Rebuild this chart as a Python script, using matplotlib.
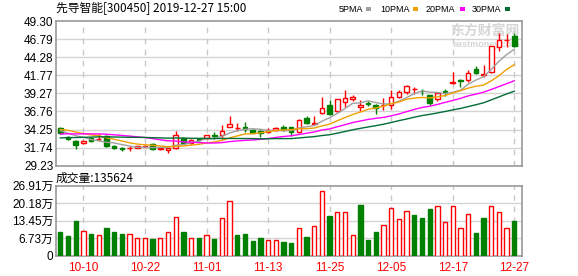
import numpy as np
import pandas as pd
import matplotlib
matplotlib.use("Agg")
import matplotlib.pyplot as plt
from matplotlib.patches import Rectangle

plt.rcParams['font.family'] = ['Noto Sans CJK SC', 'DejaVu Sans']

title = "先导智能[300450] 2019-12-27 15:00"
vol_title = "成交量:135624"

# daily candles, 2019-09-30 .. 2019-12-27
opens = [34.48, 33.27, 32.71, 32.34, 33.04, 32.90, 33.41, 31.97, 31.74, 31.69,
         31.74, 31.88, 32.25, 31.51, 31.41, 31.69, 33.13, 32.39, 32.92, 33.05,
         33.48, 33.50, 34.66, 34.41, 34.62, 34.25, 34.01, 33.97, 34.15, 34.66,
         34.57, 33.87, 35.78, 35.08, 36.52, 37.70, 36.85, 38.06, 38.45, 37.40,
         37.98, 37.70, 37.58, 37.65, 38.80, 39.48, 39.88, 39.65, 38.99, 38.45,
         39.58, 40.70, 41.15, 41.08, 42.61, 41.75, 42.24, 45.72, 46.60, 47.20]
highs = [34.57, 33.36, 32.81, 32.85, 33.27, 33.64, 33.55, 32.16, 31.88, 31.97,
         32.02, 32.11, 32.39, 31.78, 31.78, 34.11, 33.22, 32.90, 33.13, 33.50,
         33.96, 34.90, 36.06, 35.13, 35.27, 34.34, 34.20, 34.43, 34.62, 34.85,
         34.62, 35.73, 36.06, 36.06, 38.75, 38.29, 38.55, 39.70, 38.99, 38.35,
         38.15, 37.80, 38.66, 39.68, 39.70, 40.40, 40.10, 39.90, 39.10, 39.35,
         39.80, 42.24, 41.30, 42.50, 43.00, 43.17, 45.90, 47.60, 47.49, 47.60]
lows = [33.64, 32.85, 31.55, 32.20, 32.48, 32.71, 31.88, 31.55, 31.32, 31.27,
        31.69, 31.78, 31.41, 31.41, 31.04, 31.55, 32.34, 32.25, 32.67, 32.90,
        32.90, 32.95, 34.57, 34.11, 33.87, 33.74, 33.27, 33.83, 34.06, 34.11,
        33.41, 33.83, 34.99, 35.04, 36.45, 36.30, 36.70, 37.40, 38.25, 36.80,
        37.52, 36.42, 37.02, 37.15, 38.60, 39.20, 39.15, 39.00, 37.70, 38.25,
        38.90, 40.60, 40.15, 40.90, 41.90, 41.55, 42.10, 45.20, 45.72, 45.70]
closes = [33.74, 32.95, 32.16, 32.71, 32.67, 32.92, 31.92, 31.74, 31.55, 31.70,
          31.92, 32.02, 31.51, 31.66, 31.70, 33.50, 32.39, 32.81, 32.78, 33.45,
          33.40, 34.11, 35.04, 34.46, 34.34, 33.83, 33.73, 34.25, 34.43, 34.25,
          33.87, 35.50, 35.13, 35.22, 37.27, 36.34, 38.45, 38.56, 38.73, 37.68,
          37.72, 37.22, 37.62, 38.80, 39.45, 40.29, 39.93, 39.58, 37.92, 39.25,
          39.52, 40.80, 40.95, 42.15, 42.10, 41.90, 45.82, 46.65, 46.72, 45.82]
# closes before 09-30, only needed to start the moving averages
prior_close = [31.5, 31.8, 32.0, 31.7, 31.9, 32.2, 32.0, 32.3, 32.1, 32.4,
               32.3, 32.6, 32.4, 32.8, 33.0, 32.9, 33.3, 33.2, 33.6, 33.9,
               34.0, 34.6, 34.9, 34.5, 33.96, 34.8, 33.9, 33.8, 34.3]

# volume in 万
volume = [9.1, 7.6, 13.3, 9.7, 8.3, 8.2, 10.6, 9.1, 8.3, 8.6,
          6.7, 7.0, 6.4, 7.0, 9.0, 15.1, 9.1, 6.7, 6.8, 8.2,
          6.4, 14.7, 20.9, 7.9, 8.3, 5.6, 6.8, 6.3, 6.3, 5.3,
          4.9, 10.9, 7.2, 11.3, 24.7, 15.2, 16.7, 16.7, 8.2, 19.5,
          6.0, 9.1, 12.0, 18.2, 14.0, 17.4, 15.6, 14.5, 17.9, 19.0,
          13.2, 19.3, 10.9, 16.0, 8.7, 14.5, 19.0, 16.7, 10.9, 13.56]
vol_up = [0, 0, 0, 1, 0, 1, 0, 0, 0, 1,
          1, 1, 0, 1, 1, 1, 0, 1, 0, 1,
          0, 1, 1, 0, 0, 0, 0, 1, 1, 0,
          0, 1, 0, 1, 1, 0, 1, 1, 1, 0,
          0, 0, 1, 1, 1, 1, 0, 0, 0, 1,
          1, 1, 1, 1, 0, 0, 1, 1, 1, 0]

date_idx = [3, 11, 19, 27, 35, 43, 51, 59]
date_labels = ["10-10", "10-22", "11-01", "11-13", "11-25", "12-05", "12-17", "12-27"]
price_labels = ["29.23", "31.74", "34.25", "36.76", "39.27", "41.77", "44.28", "46.79", "49.30"]
vol_labels = ["0", "6.73万", "13.45万", "20.18万", "26.91万"]
ma_names = ["5PMA", "10PMA", "20PMA", "30PMA"]
ma_periods = [5, 10, 20, 30]
ma_colors = ["#a0a0a0", "#f0a000", "#ff00ff", "#006e35"]

RED = "#ff0000"
GREEN = "#008000"
FRAME = "#999999"
GRID = "#d4d4d4"

n = len(closes)
x = np.arange(n)
all_close = pd.Series(prior_close + closes)

fig = plt.figure(figsize=(5.78, 2.76), dpi=100)
ax = fig.add_axes([56 / 578, 1 - 165.7 / 276, 466 / 578, 144.7 / 276])
axv = fig.add_axes([56 / 578, 1 - 256 / 276, 466 / 578, 70.3 / 276])

num_font = ['Liberation Sans', 'Noto Sans CJK SC']

# price panel
for i in range(n):
    o, h, l, c = opens[i], highs[i], lows[i], closes[i]
    up = c >= o
    col = RED if up else GREEN
    ax.vlines(i, l, h, color=col, lw=1.0, zorder=2)
    bot = min(o, c)
    hgt = max(abs(c - o), 0.03)
    ax.add_patch(Rectangle((i - 0.3, bot), 0.6, hgt,
                           facecolor="white" if up else GREEN,
                           edgecolor=col, lw=1.0, zorder=3))

for p, col in zip(ma_periods, ma_colors):
    ma = all_close.rolling(p).mean().values[-n:]
    ax.plot(x, ma, color=col, lw=1.0, zorder=4)

pticks = np.linspace(29.23, 49.30, 9)
ax.set_ylim(29.23, 49.30)
ax.set_yticks(pticks)
ax.set_yticklabels(price_labels, family=num_font, fontsize=8.5)

# volume panel
for i in range(n):
    col = RED if vol_up[i] else GREEN
    axv.bar(i, volume[i], width=0.56, facecolor="white" if vol_up[i] else GREEN,
            edgecolor=col, lw=1.0, zorder=3)

vticks = np.linspace(0, 26.91, 5)
axv.set_ylim(0, 26.91)
axv.set_yticks(vticks)
axv.set_yticklabels(vol_labels, family=num_font, fontsize=8.5)

for a, ticks in ((ax, pticks), (axv, vticks)):
    a.set_xlim(-0.56, n)
    for t in ticks[1:-1]:
        a.axhline(t, color=GRID, lw=1.0, zorder=1)
    for d in date_idx:
        a.axvline(d, color="#c8c8c8", lw=1.0, ls=(0, (4, 4)), zorder=1)
    for s in a.spines.values():
        s.set_color(FRAME)
        s.set_linewidth(1.2)
    a.tick_params(length=0, pad=2)

ax.set_xticks([])
axv.set_xticks(date_idx)
axv.set_xticklabels(date_labels, family=num_font, fontsize=8.5, color=RED)
axv.tick_params(axis='x', pad=4)

# watermark
ax.text(0.995, 0.93, "东方财富网", transform=ax.transAxes, ha="right", va="center",
        fontsize=10, fontweight="bold", color="#d6d6d6", zorder=1)
ax.text(0.995, 0.84, "eastmoney.com", transform=ax.transAxes, ha="right", va="center",
        family=num_font, fontsize=6.5, fontweight="bold", color="#d6d6d6", zorder=1)

# header texts
fig.text(56 / 578, 1 - 9 / 276, title, fontsize=8.5, va="center", ha="left")
fig.text(56 / 578, 1 - 178 / 276, vol_title, fontsize=8.5, va="center", ha="left")

# legend
leg_x = [339, 380, 426, 472]
leg_sq = [366, 413, 460, 505]
for lx, sx, name, col in zip(leg_x, leg_sq, ma_names, ma_colors):
    fig.text(lx / 578, 1 - 9 / 276, name, family=num_font, fontsize=6.5,
             va="center", ha="left")
    fig.add_artist(Rectangle((sx / 578, 1 - 10.5 / 276), 5 / 578, 3.5 / 276,
                             transform=fig.transFigure, facecolor=col, edgecolor="none"))

fig.savefig("out.png", dpi=100)
